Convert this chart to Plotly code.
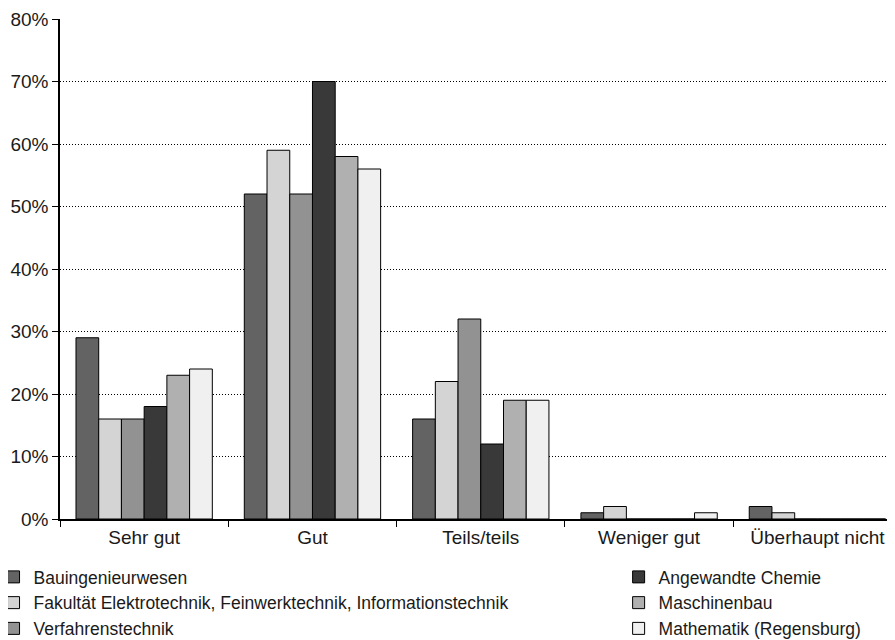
import plotly.graph_objects as go

categories = ["Sehr gut", "Gut", "Teils/teils", "Weniger gut", "Überhaupt nicht"]
series_names = [
    "Bauingenieurwesen",
    "Fakultät Elektrotechnik, Feinwerktechnik, Informationstechnik",
    "Verfahrenstechnik",
    "Angewandte Chemie",
    "Maschinenbau",
    "Mathematik (Regensburg)",
]
bau = [29, 52, 16, 1, 2]
fak = [16, 59, 22, 2, 1]
verf = [16, 52, 32, 0, 0]
chem = [18, 70, 12, 0, 0]
masch = [23, 58, 19, 0, 0]
math = [24, 56, 19, 1, 0]
values = [bau, fak, verf, chem, masch, math]
colors = ["#636363", "#d4d4d4", "#929292", "#393939", "#b0b0b0", "#f0f0f0"]
legend_ids = ["legend", "legend", "legend", "legend2", "legend2", "legend2"]

fig = go.Figure()
for name, vals, col, lg in zip(series_names, values, colors, legend_ids):
    fig.add_trace(go.Bar(
        x=categories, y=vals, name=name, legend=lg,
        marker=dict(color=col, line=dict(color="#000000", width=1)),
    ))

family = "Liberation Sans, Arial, sans-serif"
tick_font = dict(family=family, size=19, color="#1a1a1a")
leg_font = dict(family=family, size=17.5, color="#1a1a1a")
fig.update_layout(
    width=887, height=632,
    margin=dict(l=52, r=0, t=11, b=121, autoexpand=False),
    plot_bgcolor="white", paper_bgcolor="white",
    font=leg_font,
    barmode="group", bargap=0.19, bargroupgap=0,
    showlegend=True,
    legend=dict(x=-0.0796, y=-0.08, xanchor="left", yanchor="top",
                orientation="v", font=leg_font, bgcolor="rgba(0,0,0,0)",
                traceorder="normal", itemwidth=30),
    legend2=dict(x=0.669, y=-0.08, xanchor="left", yanchor="top",
                 orientation="v", font=leg_font, bgcolor="rgba(0,0,0,0)",
                 traceorder="normal", itemwidth=30),
    xaxis=dict(range=[-0.5, 4.461],
               showline=True, linecolor="#000000", linewidth=1.5,
               ticks="outside", tickson="boundaries", ticklen=6,
               tickcolor="#000000", showgrid=False, tickfont=tick_font,
               automargin=False),
    yaxis=dict(range=[0, 80], dtick=10, ticksuffix="%",
               showline=True, linecolor="#000000", linewidth=1.5,
               ticks="outside", ticklen=6, tickcolor="#000000",
               showgrid=True, gridcolor="#000000", gridwidth=1,
               griddash="1px,2px", zeroline=False, tickfont=tick_font,
               automargin=False),
)
fig.write_html("out.html")
